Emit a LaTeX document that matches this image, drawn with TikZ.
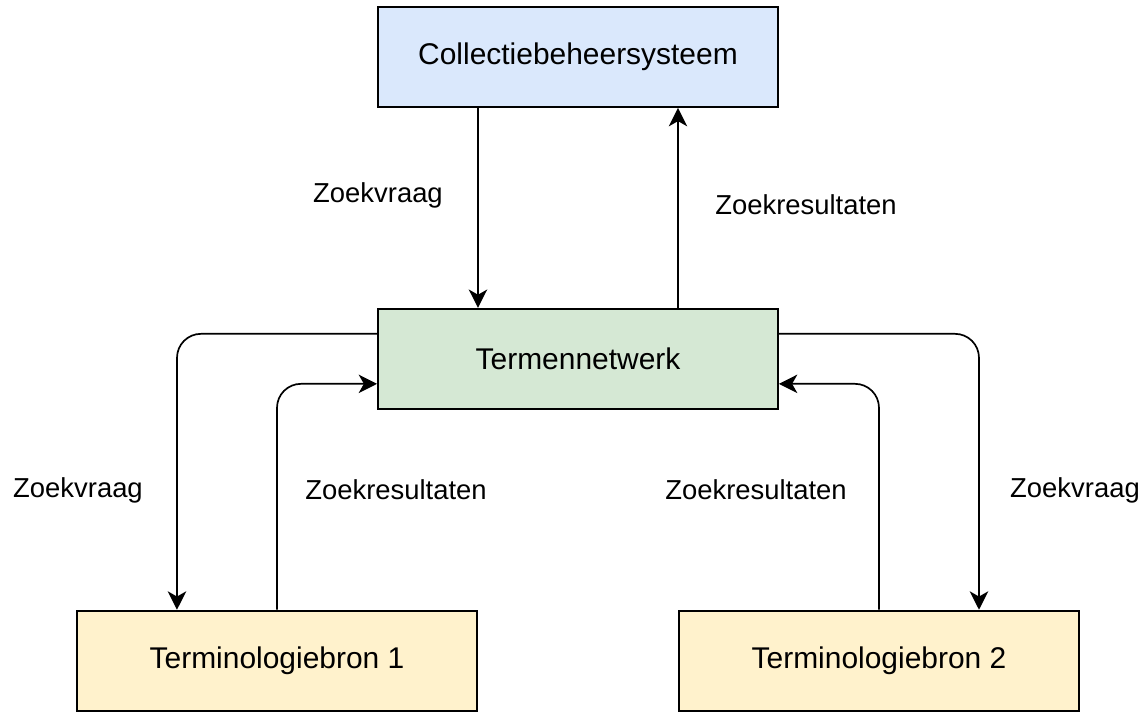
\documentclass[tikz,border=0pt]{standalone}
\usepackage{fontspec}
\setmainfont{Liberation Sans}
\usepackage{xcolor}
\usetikzlibrary{positioning,arrows.meta}
\definecolor{cbsblue}{HTML}{DAE8FC}
\definecolor{netgreen}{HTML}{D5E8D4}
\definecolor{bronyellow}{HTML}{FFF2CC}
\tikzstyle{component}=[rectangle, draw=black, line width=1.3pt, minimum width=10cm, minimum height=2.5cm, inner sep=0pt, text centered, font=\fontsize{21.3}{25}\selectfont]
\tikzstyle{lbl}=[font=\fontsize{19.5}{23}\selectfont, inner sep=0pt]
\tikzstyle{arrow}=[-{Stealth[length=0.46cm,width=0.46cm,inset=0.13cm]}, line width=1.2pt, rounded corners=0.6cm]

\begin{document}
\begin{tikzpicture}[node distance=5cm]
        \useasboundingbox (-14.45,1.425) rectangle (14.175,-16.35);
        \node[component, fill=cbsblue] (cbs) at (0,0) {Collectiebeheersysteem};
        \node[component, fill=netgreen, below=5.0cm of cbs] (net) {Termennetwerk};
        \node[component, fill=bronyellow, below=5.0cm of net, xshift=-7.525cm] (bron1) {Terminologiebron 1};
        \node[component, fill=bronyellow, below=5.0cm of net, xshift=7.525cm] (bron2) {Terminologiebron 2};

        % labels
        \node[lbl] (vraag0) at (-5,-3.45) {Zoekvraag};
        \node[lbl] (res0) at (5.7,-3.7) {Zoekresultaten};
        \node[lbl] (vraag1) at (-12.5,-10.825) {Zoekvraag};
        \node[lbl] (res1) at (-4.55,-10.825) {Zoekresultaten};
        \node[lbl] (res2) at (4.45,-10.825) {Zoekresultaten};
        \node[lbl] (vraag2) at (12.425,-10.825) {Zoekvraag};

        \draw[arrow] ([xshift=-2.5cm]cbs.south) -- ([xshift=-2.5cm]net.north);
        \draw[arrow] ([xshift=2.5cm]net.north) -- ([xshift=2.5cm]cbs.south);
        \draw[arrow] ([yshift=0.625cm]net.west) -| ([xshift=-2.5cm]bron1.north);
        \draw[arrow] (bron1.north) |- ([yshift=-0.625cm]net.west);
        \draw[arrow] ([yshift=0.625cm]net.east) -| ([xshift=2.5cm]bron2.north);
        \draw[arrow] (bron2.north) |- ([yshift=-0.625cm]net.east);
    \end{tikzpicture}
\end{document}
